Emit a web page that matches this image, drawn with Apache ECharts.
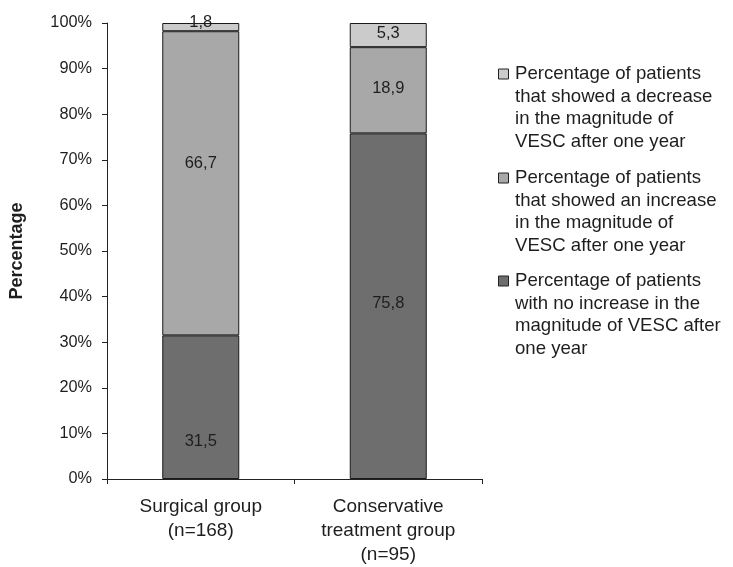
<!DOCTYPE html>
<html>
<head>
<meta charset="utf-8">
<script src="https://cdn.jsdelivr.net/npm/echarts@6/dist/echarts.min.js"></script>
<style>
  html, body { margin: 0; padding: 0; background: #fff; }
  #chart { width: 733px; height: 567px; }
</style>
</head>
<body>
<div id="chart"></div>
<script>
// Groups compared
const categories = ['Surgical group\n(n=168)', 'Conservative\ntreatment group\n(n=95)'];

// Percentage of patients per outcome, stacked bottom to top
const noIncrease = [31.5, 75.8];
const increase = [66.7, 18.9];
const decrease = [1.8, 5.3];

// Legend entries, listed top to bottom
const legendNames = [
  'Percentage of patients\nthat showed a decrease\nin the magnitude of\nVESC after one year',
  'Percentage of patients\nthat showed an increase\nin the magnitude of\nVESC after one year',
  'Percentage of patients\nwith no increase in the\nmagnitude of VESC after\none year'
];
const legendColors = ['#cbcbcb', '#a8a8a8', '#6e6e6e'];

const FONT = '"Liberation Sans", Arial, sans-serif';
const chart = echarts.init(document.getElementById('chart'));

const fmt = p => String(p.value).replace('.', ',');

// Per-bar label nudges (px) so the values sit where they read best
function barSeries(name, data, color, offsets) {
  return {
    name: name,
    type: 'bar',
    stack: 'total',
    barWidth: 77,
    data: data.map((v, i) => ({
      value: v,
      label: { offset: offsets ? offsets[i] : [0, 0] }
    })),
    itemStyle: { color: color, borderColor: '#1a1a1a', borderWidth: 1 },
    label: {
      show: true,
      position: 'inside',
      formatter: fmt,
      fontFamily: FONT,
      fontSize: 16.5,
      color: '#1e1e1e'
    },
    emphasis: { disabled: true },
    animation: false
  };
}

// Legend drawn as swatch + multi-line text, swatch aligned to first line
const legendLineHeight = 22.5;
const legendFirstLine = [74, 178, 281];
const legendGraphics = [];
legendNames.forEach((name, i) => {
  legendGraphics.push({
    type: 'rect',
    left: 498,
    top: legendFirstLine[i] - 5.5,
    shape: { width: 10, height: 10 },
    style: { fill: legendColors[i], stroke: '#222', lineWidth: 1 }
  });
  legendGraphics.push({
    type: 'text',
    left: 515,
    top: legendFirstLine[i] - legendLineHeight / 2,
    style: {
      text: name,
      font: '18.6px ' + FONT,
      fill: '#1e1e1e',
      lineHeight: legendLineHeight
    }
  });
});

chart.setOption({
  backgroundColor: '#fff',
  animation: false,
  grid: { left: 100, right: 251, top: 23, bottom: 84, containLabel: false },
  xAxis: {
    type: 'category',
    data: categories,
    axisLine: { lineStyle: { color: '#222', width: 1 } },
    axisTick: { show: true, length: 5, lineStyle: { color: '#222' } },
    axisLabel: {
      fontFamily: FONT,
      fontSize: 19,
      color: '#1e1e1e',
      lineHeight: 24,
      margin: 16,
      interval: 0
    }
  },
  yAxis: {
    type: 'value',
    min: 0,
    max: 100,
    interval: 10,
    name: 'Percentage',
    nameLocation: 'middle',
    nameGap: 81,
    nameTextStyle: { fontFamily: FONT, fontSize: 18, fontWeight: 'bold', color: '#1e1e1e' },
    axisLine: { show: true, lineStyle: { color: '#222', width: 1 } },
    axisTick: { show: true, length: 5, lineStyle: { color: '#222' } },
    splitLine: { show: false },
    axisLabel: {
      formatter: '{value}%',
      fontFamily: FONT,
      fontSize: 16.3,
      color: '#1e1e1e',
      margin: 15
    }
  },
  series: [
    barSeries('no increase', noIncrease, legendColors[2], [[0, 34], [0, -3]]),
    barSeries('increase', increase, legendColors[1], [[0, -20], [0, -2]]),
    barSeries('decrease', decrease, legendColors[0], [[0, -4.5], [0, -2]])
  ],
  graphic: legendGraphics
});
</script>
</body>
</html>
